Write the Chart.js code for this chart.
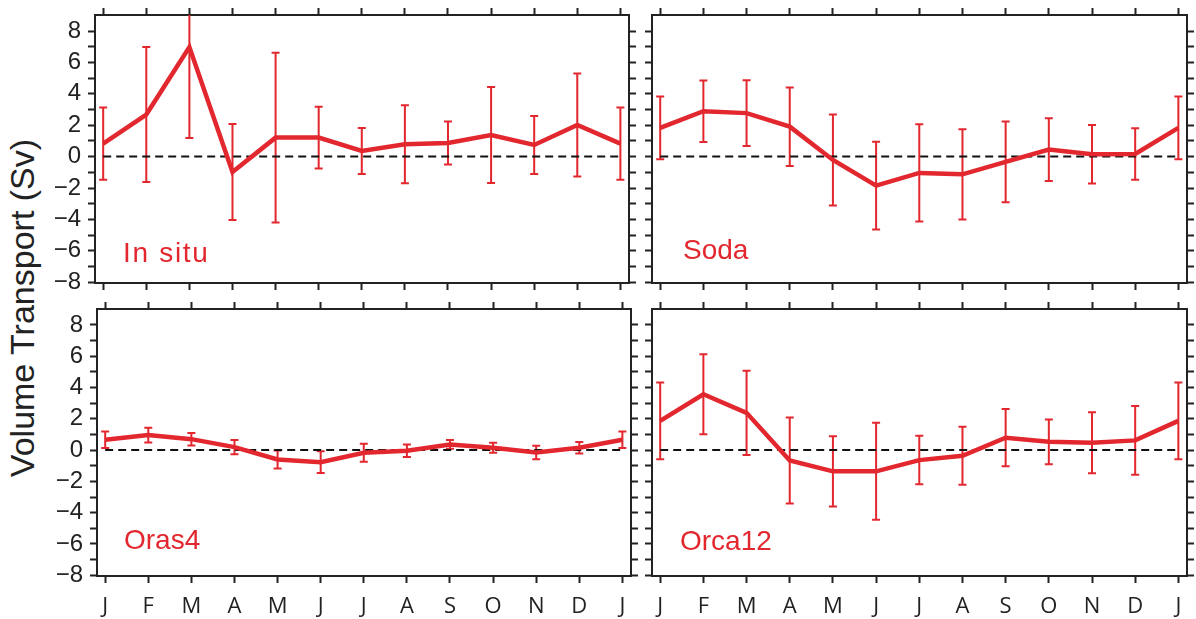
<!DOCTYPE html>
<html>
<head>
<meta charset="utf-8">
<script src="https://cdn.jsdelivr.net/npm/chart.js@4.4.1/dist/chart.umd.min.js"></script>
<style>
  html, body { margin: 0; padding: 0; background: #fff; }
  body { width: 1196px; height: 619px; position: relative; overflow: hidden; }
  .panel { position: absolute; }
  #ytitle {
    position: absolute; left: 22px; top: 308px;
    transform: translate(-50%, -50%) rotate(-90deg);
    font: 34px 'Liberation Sans', Arial, sans-serif; color: #222; white-space: nowrap;
  }
</style>
</head>
<body>
<div id="ytitle">Volume Transport (Sv)</div>
<div class="panel" style="left:0;top:0;width:640px;height:296px"><canvas id="c0"></canvas></div>
<div class="panel" style="left:640px;top:0;width:556px;height:296px"><canvas id="c1"></canvas></div>
<div class="panel" style="left:0;top:296px;width:640px;height:323px"><canvas id="c2"></canvas></div>
<div class="panel" style="left:640px;top:296px;width:556px;height:323px"><canvas id="c3"></canvas></div>
<script>
// month axis and y ticks
const months = ['J', 'F', 'M', 'A', 'M', 'J', 'J', 'A', 'S', 'O', 'N', 'D', 'J'];
const yTicks = [-8, -7, -6, -5, -4, -3, -2, -1, 0, 1, 2, 3, 4, 5, 6, 7, 8];

// monthly mean transport (Sv) and error bar half-widths
const inSitu    = [0.83, 2.68, 6.98, -0.98, 1.21, 1.21, 0.36, 0.79, 0.87, 1.38, 0.74, 2.02, 0.83];
const inSituErr = [2.30, 4.30, 5.80, 3.06, 5.40, 1.96, 1.47, 2.48, 1.37, 3.06, 1.85, 3.28, 2.30];
const soda      = [1.83, 2.89, 2.77, 1.91, -0.21, -1.85, -1.04, -1.13, -0.34, 0.45, 0.15, 0.17, 1.83];
const sodaErr   = [2.00, 1.96, 2.10, 2.50, 2.90, 2.80, 3.10, 2.87, 2.57, 2.00, 1.87, 1.64, 2.00];
const oras4     = [0.66, 0.96, 0.70, 0.19, -0.60, -0.77, -0.17, -0.04, 0.36, 0.15, -0.15, 0.15, 0.66];
const oras4Err  = [0.53, 0.47, 0.40, 0.45, 0.57, 0.70, 0.57, 0.40, 0.28, 0.32, 0.43, 0.37, 0.53];
const orca12    = [1.87, 3.57, 2.38, -0.66, -1.36, -1.36, -0.64, -0.36, 0.79, 0.53, 0.47, 0.62, 1.87];
const orca12Err = [2.45, 2.55, 2.70, 2.75, 2.25, 3.10, 1.55, 1.85, 1.83, 1.43, 1.95, 2.20, 2.45];

const RED = '#e2272e';
const INK = '#222';

const panels = [
  { id: 'c0', name: 'In situ', vals: inSitu, errs: inSituErr, yLabels: true,  xLabels: false, box: [95, 11, 15, 13], label: [28, 21], spacing: '1.7px' },
  { id: 'c1', name: 'Soda',    vals: soda,   errs: sodaErr,   yLabels: false, xLabels: false, box: [12, 9, 15, 13],  label: [31, 24], spacing: '0px' },
  { id: 'c2', name: 'Oras4',   vals: oras4,  errs: oras4Err,  yLabels: true,  xLabels: true,  box: [97, 9, 13, 43],  label: [27, 27], spacing: '0px' },
  { id: 'c3', name: 'Orca12',  vals: orca12, errs: orca12Err, yLabels: false, xLabels: true,  box: [12, 9, 13, 43],  label: [28, 26], spacing: '0px' }
];

function errorBars(vals, errs) {
  return {
    id: 'errorBars',
    beforeDatasetsDraw(chart) {
      const { ctx, chartArea: a, scales: { x, y } } = chart;
      ctx.save();
      ctx.beginPath();
      ctx.rect(a.left, a.top, a.width, a.height);
      ctx.clip();
      ctx.strokeStyle = RED;
      ctx.lineWidth = 2;
      vals.forEach((v, i) => {
        const px = x.getPixelForValue(i);
        const top = y.getPixelForValue(v + errs[i]);
        const bot = y.getPixelForValue(v - errs[i]);
        ctx.beginPath();
        ctx.moveTo(px, top); ctx.lineTo(px, bot);
        ctx.moveTo(px - 4, top); ctx.lineTo(px + 4, top);
        ctx.moveTo(px - 4, bot); ctx.lineTo(px + 4, bot);
        ctx.stroke();
      });
      ctx.restore();
    }
  };
}

function panelLabel(text, off, spacing) {
  return {
    id: 'panelLabel',
    afterDraw(chart) {
      const { ctx, chartArea: a } = chart;
      ctx.save();
      ctx.fillStyle = RED;
      ctx.font = '28px "Liberation Sans", Arial, sans-serif';
      ctx.letterSpacing = spacing;
      ctx.textBaseline = 'alphabetic';
      ctx.fillText(text, a.left + off[0], a.bottom - off[1]);
      ctx.restore();
    }
  };
}

const tickGrid = { drawOnChartArea: false, drawTicks: true, tickLength: 7, tickWidth: 2, tickColor: INK };
const frame = { display: true, color: INK, width: 2 };
const monthTicks = s => { s.ticks = months.map((m, i) => ({ value: i })); };
const valueTicks = s => { s.ticks = yTicks.map(v => ({ value: v })); };
// fixed axis sizes, and no extra room for labels that stick out past the frame
const fixSize = (w, h) => s => {
  if (w !== null) s.width = w;
  if (h !== null) s.height = h;
  s.paddingTop = 0; s.paddingBottom = 0; s.paddingLeft = 0; s.paddingRight = 0;
};

panels.forEach(p => {
  const [l, r, t, b] = p.box;
  const xBase = { type: 'linear', min: -0.19, max: 12.2, bounds: 'data', afterBuildTicks: monthTicks, grid: tickGrid, border: frame };
  const yBase = { type: 'linear', min: -8.05, max: 9.02, bounds: 'data', afterBuildTicks: valueTicks, grid: tickGrid, border: frame };

  new Chart(document.getElementById(p.id), {
    type: 'line',
    data: {
      datasets: [
        {
          data: p.vals.map((v, i) => ({ x: i, y: v })),
          borderColor: RED, borderWidth: 4.5, pointRadius: 0, tension: 0, order: 0
        },
        {
          data: [{ x: 0, y: 0 }, { x: months.length - 1, y: 0 }],
          borderColor: '#111', borderWidth: 2, borderDash: [8, 5], pointRadius: 0, order: 1
        }
      ]
    },
    options: {
      responsive: true,
      maintainAspectRatio: false,
      animation: false,
      events: [],
      layout: { padding: 0 },
      plugins: { legend: { display: false }, tooltip: { enabled: false } },
      scales: {
        x: Object.assign({}, xBase, {
          position: 'bottom',
          afterFit: fixSize(null, b),
          ticks: {
            display: p.xLabels, autoSkip: false, maxRotation: 0, padding: 11, color: INK,
            font: { family: "'Open Sans', sans-serif", size: 22 },
            callback: v => months[v]
          }
        }),
        xTop: Object.assign({}, xBase, {
          position: 'top',
          afterFit: fixSize(null, t),
          ticks: { display: false }
        }),
        y: Object.assign({}, yBase, {
          position: 'left',
          afterFit: fixSize(l, null),
          ticks: {
            display: p.yLabels, autoSkip: false, padding: 7, color: INK,
            font: { family: "'Liberation Sans', Arial, sans-serif", size: 24 },
            callback: v => (v % 2 === 0 ? String(v).replace('-', '\u2212') : '')
          }
        }),
        yRight: Object.assign({}, yBase, {
          position: 'right',
          afterFit: fixSize(r, null),
          ticks: { display: false }
        })
      }
    },
    plugins: [errorBars(p.vals, p.errs), panelLabel(p.name, p.label, p.spacing)]
  });
});
</script>
</body>
</html>
